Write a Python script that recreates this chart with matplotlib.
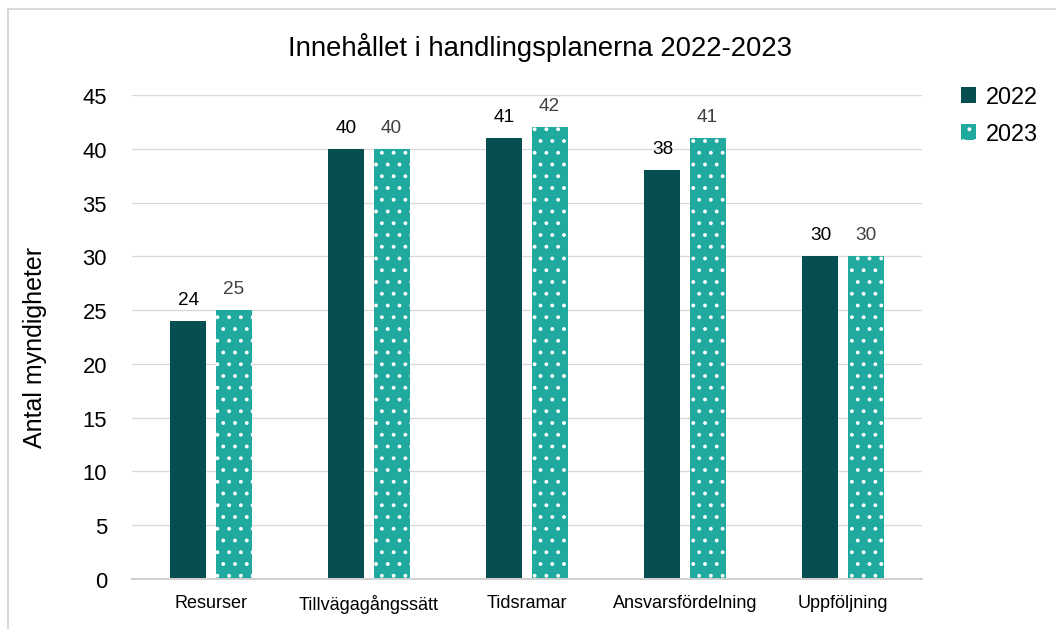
import matplotlib
matplotlib.use("Agg")
import matplotlib.pyplot as plt
from matplotlib.lines import Line2D
import numpy as np

categories = ["Resurser", "Tillvägagångssätt", "Tidsramar", "Ansvarsfördelning", "Uppföljning"]
values_2022 = [24, 40, 41, 38, 30]
values_2023 = [25, 40, 42, 41, 30]
series_names = ["2022", "2023"]
yticks = [0, 5, 10, 15, 20, 25, 30, 35, 40, 45]

DPI = 141.42
W, H = 1056, 630
P = 72.0 / DPI  # points per pixel

plt.rcParams['font.family'] = ['Liberation Sans', 'DejaVu Sans']
plt.rcParams['hatch.color'] = 'white'
plt.rcParams['hatch.linewidth'] = 0.75

fig = plt.figure(figsize=(W / DPI, H / DPI), dpi=DPI)
ax_l, ax_r, ax_t, ax_b = 132, 922, 96, 580
ax = fig.add_axes([ax_l / W, 1 - ax_b / H, (ax_r - ax_l) / W, (ax_b - ax_t) / H])

c1 = '#064f50'
c2 = '#1fa99f'
x = np.arange(len(categories))
w = 0.228
gap = 0.057
off = (w + gap) / 2
b1 = ax.bar(x - off, values_2022, w, color=c1, label=series_names[0], zorder=3, linewidth=0)
b2 = ax.bar(x + off, values_2023, w, facecolor=c2, hatch='..', edgecolor='white', linewidth=0,
            label=series_names[1], zorder=3)

for rect, v in zip(b1, values_2022):
    ax.annotate(str(v), (rect.get_x() + rect.get_width() / 2, v), xytext=(0, 17 * P),
                textcoords='offset points', ha='center', va='baseline',
                fontsize=19 * P, color='#000000')
for rect, v in zip(b2, values_2023):
    ax.annotate(str(v), (rect.get_x() + rect.get_width() / 2, v), xytext=(0, 17 * P),
                textcoords='offset points', ha='center', va='baseline',
                fontsize=19 * P, color='#404040')

ax.set_ylim(0, 45)
ax.set_xlim(-0.5, len(categories) - 0.5)
ax.set_yticks(yticks)
ax.set_yticklabels([str(t) for t in yticks], fontsize=22 * P)
ax.set_xticks(x)
ax.set_xticklabels(categories, fontsize=18 * P)
ax.tick_params(axis='y', length=0, pad=25 * P)
ax.tick_params(axis='x', length=0, pad=15 * P)
ax.yaxis.grid(True, color='#d9d9d9', linewidth=1.3 * P, zorder=0)
for s in ['top', 'right', 'left']:
    ax.spines[s].set_visible(False)
ax.spines['bottom'].set_color('#d0d0d0')
ax.spines['bottom'].set_linewidth(2 * P)
ax.spines['bottom'].set_zorder(4)

fig.text(35 / W, 1 - 347 / H, 'Antal myndigheter', rotation=90, ha='center', va='center',
         fontsize=25 * P)
fig.text(540 / W, 1 - 47 / H, 'Innehållet i handlingsplanerna 2022-2023', ha='center',
         va='center', fontsize=27.5 * P)

fig.legend(handles=[b1, b2], labels=series_names, loc='upper left',
           bbox_to_anchor=(961 / W, 1 - 86 / H), frameon=False, fontsize=23.5 * P,
           handlelength=0.65, handleheight=0.65, handletextpad=0.4, labelspacing=0.6,
           borderaxespad=0, borderpad=0)

fig.add_artist(Line2D([8 / W, 1], [1 - 10 / H, 1 - 10 / H], transform=fig.transFigure,
                      color='#d9d9d9', linewidth=2 * P))
fig.add_artist(Line2D([8 / W, 8 / W], [0, 1 - 10 / H], transform=fig.transFigure,
                      color='#d9d9d9', linewidth=2 * P))

fig.savefig('out.png', dpi=DPI)
